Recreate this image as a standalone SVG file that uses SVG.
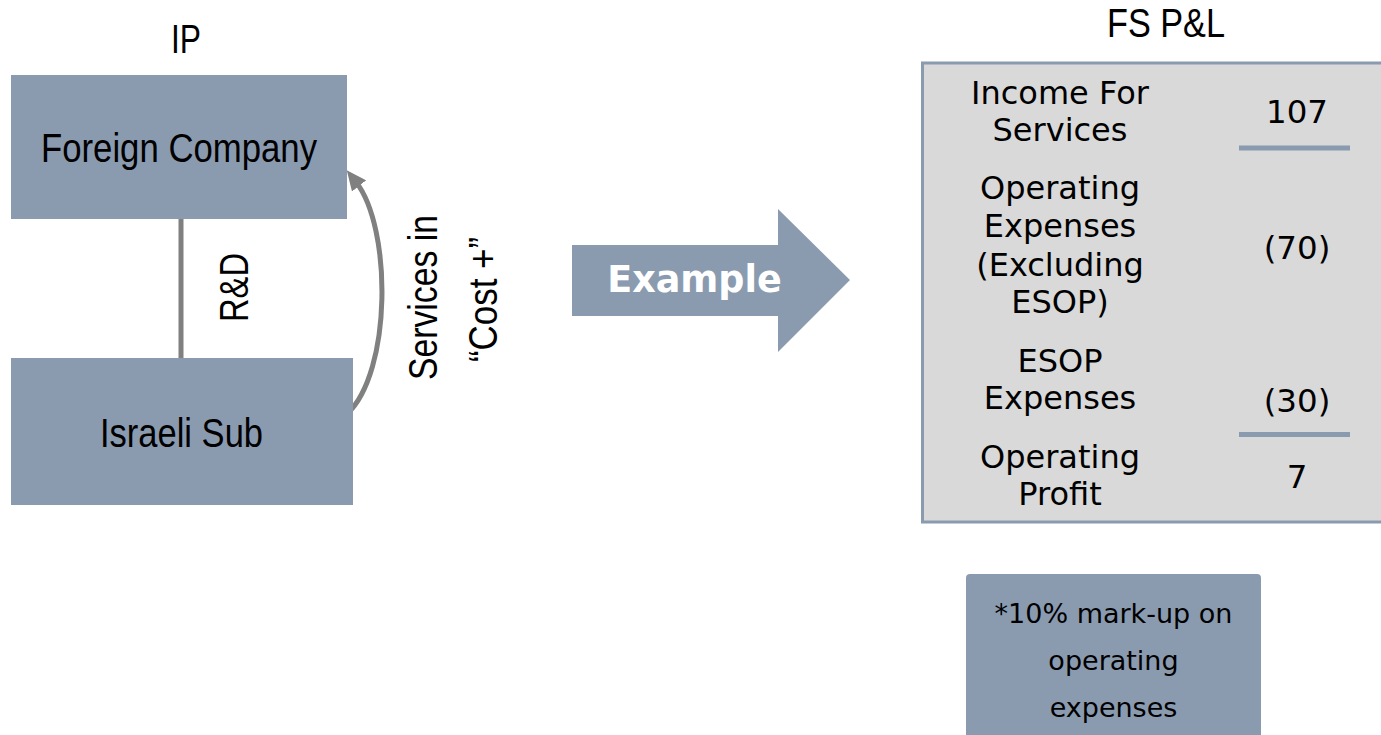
<svg xmlns="http://www.w3.org/2000/svg" width="1381" height="735" viewBox="0 0 1381 735">
  <style>
    .box { fill: #8a9bb0; }
    .narrow { font-family: "Liberation Sans Narrow", "Liberation Sans", Arial, sans-serif; font-size: 40px; fill: #000; text-anchor: middle; }
    .verd { font-family: "DejaVu Sans", Verdana, sans-serif; fill: #000; text-anchor: middle; }
    .lbl { font-size: 32px; }
    .num { font-size: 32.5px; }
    .note { font-size: 27px; }
    .conn { fill: none; stroke: #808080; stroke-width: 5; }
    .rule { stroke: #8a9bb0; stroke-width: 5; }
  </style>
  <defs>
    <marker id="ah" markerUnits="userSpaceOnUse" markerWidth="20" markerHeight="18" viewBox="0 0 20 18" refX="5" refY="9" orient="auto">
      <path d="M0,0 L20,9 L0,18 z" fill="#808080"/>
    </marker>
  </defs>
  <rect width="1381" height="735" fill="#ffffff"/>

  <text class="narrow" x="186" y="53" textLength="30" lengthAdjust="spacingAndGlyphs">IP</text>
  <text class="narrow" x="1166" y="37" textLength="118" lengthAdjust="spacingAndGlyphs">FS P&amp;L</text>

  <g id="connectors">
    <line class="conn" x1="181" y1="219" x2="181" y2="358"/>
    <path class="conn" d="M347,414 C392,372 392,228 356,182" marker-end="url(#ah)"/>
  </g>

  <g id="foreign-company">
    <rect class="box" x="11" y="75" width="336" height="144"/>
    <text class="narrow" x="179" y="162" textLength="276" lengthAdjust="spacingAndGlyphs">Foreign Company</text>
  </g>

  <g id="israeli-sub">
    <rect class="box" x="11" y="358" width="342" height="147"/>
    <text class="narrow" x="181.5" y="447" textLength="163" lengthAdjust="spacingAndGlyphs">Israeli Sub</text>
  </g>

  <g id="rd-label">
    <text class="narrow" transform="translate(248,287.5) rotate(-90)" textLength="69" lengthAdjust="spacingAndGlyphs">R&amp;D</text>
  </g>

  <g id="services-label">
    <text class="narrow" transform="translate(437,297.5) rotate(-90)" textLength="165" lengthAdjust="spacingAndGlyphs">Services in</text>
    <text class="narrow" transform="translate(497,299.5) rotate(-90)" textLength="125" lengthAdjust="spacingAndGlyphs">“Cost +”</text>
  </g>

  <g id="example-arrow">
    <polygon class="box" points="572,245 778,245 778,209 850,280 778,352 778,316 572,316"/>
    <text x="694.5" y="292" font-family="'DejaVu Sans', Verdana, sans-serif" font-weight="bold" font-size="36.5" fill="#ffffff" text-anchor="middle">Example</text>
  </g>

  <g id="fs-pl">
    <rect x="922.5" y="63" width="470" height="459" fill="#d9d9d9" stroke="#8a9bb0" stroke-width="3"/>
    <text class="verd lbl" x="1060" y="104">Income For</text>
    <text class="verd lbl" x="1060" y="141">Services</text>
    <text class="verd num" x="1297" y="123">107</text>
    <line class="rule" x1="1239" y1="148" x2="1350" y2="148"/>
    <text class="verd lbl" x="1060" y="199">Operating</text>
    <text class="verd lbl" x="1060" y="237">Expenses</text>
    <text class="verd lbl" x="1060" y="276">(Excluding</text>
    <text class="verd lbl" x="1060" y="313">ESOP)</text>
    <text class="verd num" x="1297" y="259">(70)</text>
    <text class="verd lbl" x="1060" y="372">ESOP</text>
    <text class="verd lbl" x="1060" y="409">Expenses</text>
    <text class="verd num" x="1297" y="412">(30)</text>
    <line class="rule" x1="1239" y1="434.5" x2="1350" y2="434.5"/>
    <text class="verd lbl" x="1060" y="468">Operating</text>
    <text class="verd lbl" x="1060" y="505">Profit</text>
    <text class="verd num" x="1297" y="488">7</text>
  </g>

  <g id="note">
    <rect class="box" x="966" y="574" width="295" height="175" rx="4" ry="4"/>
    <text class="verd note" x="1113.5" y="623">*10% mark-up on</text>
    <text class="verd note" x="1113.5" y="670">operating</text>
    <text class="verd note" x="1113.5" y="717">expenses</text>
  </g>
</svg>
